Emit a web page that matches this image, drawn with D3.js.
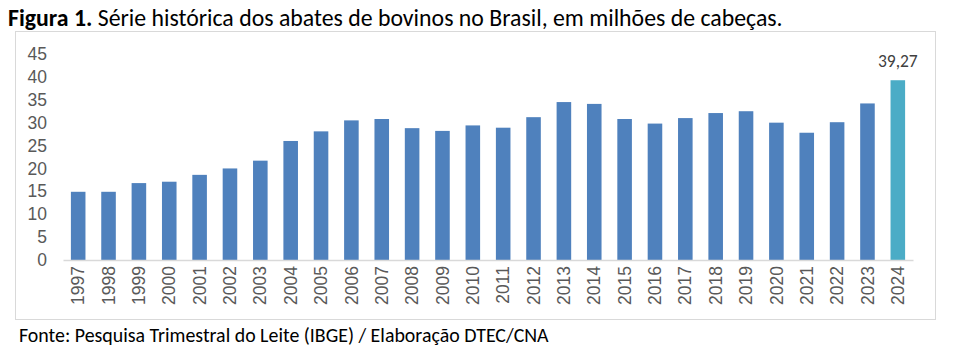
<!DOCTYPE html>
<html>
<head>
<meta charset="utf-8">
<script src="https://cdn.jsdelivr.net/npm/d3@7"></script>
<style>
  body { margin: 0; background: #fff; }
  svg { font-family: Carlito, Lato, "Open Sans", sans-serif; }
</style>
</head>
<body>
<div id="chart"></div>
<script>
(function abates_chart(){
// dados (milhões de cabeças)
const years = ["1997","1998","1999","2000","2001","2002","2003","2004","2005","2006",
    "2007","2008","2009","2010","2011","2012","2013","2014","2015","2016",
    "2017","2018","2019","2020","2021","2022","2023","2024"];
const abates = [14.9, 14.9, 16.8, 17.1, 18.6, 20.0, 21.7, 26.0, 28.1, 30.5,
    30.8, 28.8, 28.2, 29.4, 28.9, 31.2, 34.5, 34.1, 30.8, 29.8,
    31.0, 32.1, 32.5, 30.0, 27.8, 30.1, 34.2, 39.27];
const yTicks = [0, 5, 10, 15, 20, 25, 30, 35, 40, 45];

const data = years.map((y, i) => ({year: y, value: abates[i]}));

const width = 955, height = 351;
const marginLeft = 63, marginRight = 42, marginTop = 54, marginBottom = 91;

const svg = d3.select("#chart").append("svg")
    .attr("width", width)
    .attr("height", height)
    .attr("viewBox", [0, 0, width, height]);

// titulo
svg.append("text")
    .attr("x", 8)
    .attr("y", 26)
    .attr("font-size", 23.8)
    .attr("fill", "#000")
    .call(t => t.append("tspan").attr("font-weight", "bold").text("Figura 1."))
    .call(t => t.append("tspan").text(" Série histórica dos abates de bovinos no Brasil, em milhões de cabeças."));

// moldura
svg.append("rect")
    .attr("x", 15.5).attr("y", 31.5)
    .attr("width", 920).attr("height", 288)
    .attr("fill", "none")
    .attr("stroke", "#d9d9d9");

const x = d3.scaleBand()
    .domain(years)
    .range([marginLeft, width - marginRight])
    .paddingInner(0.52)
    .paddingOuter(0.26);

const y = d3.scaleLinear()
    .domain([0, 45])
    .range([height - marginBottom, marginTop]);

// eixo y (sem linha)
svg.append("g")
    .attr("transform", `translate(${marginLeft},0)`)
    .call(d3.axisLeft(y).tickValues(yTicks).tickSize(0).tickPadding(16))
    .call(g => g.select(".domain").remove())
    .call(g => g.selectAll("text")
        .attr("font-size", 17.5)
        .attr("fill", "#595959")
        .attr("font-family", null));

// barras
svg.append("g")
    .selectAll("rect")
    .data(data)
    .join("rect")
    .attr("x", d => x(d.year))
    .attr("y", d => y(d.value))
    .attr("width", x.bandwidth())
    .attr("height", d => y(0) - y(d.value))
    .attr("fill", d => d.year === "2024" ? "#4bacc6" : "#4f81bd");

// eixo x
svg.append("g")
    .attr("transform", `translate(0,${y(0)})`)
    .call(d3.axisBottom(x).tickSize(0).tickPadding(0))
    .call(g => g.select(".domain").attr("stroke", "#d9d9d9").attr("stroke-width", 1.5))
    .call(g => g.selectAll("text")
        .attr("font-size", 17.5)
        .attr("fill", "#595959")
        .attr("font-family", null)
        .attr("text-anchor", "end")
        .attr("dy", "0.35em")
        .attr("transform", "translate(0,6) rotate(-90)"));

// rotulo do ultimo valor
const last = data[data.length - 1];
svg.append("text")
    .attr("x", x(last.year) + x.bandwidth() / 2)
    .attr("y", y(last.value) - 13)
    .attr("text-anchor", "middle")
    .attr("font-size", 17.5)
    .attr("fill", "#404040")
    .text(d3.format(".2f")(last.value).replace(".", ","));

// fonte
svg.append("text")
    .attr("x", 19)
    .attr("y", 342)
    .attr("font-size", 19.9)
    .attr("fill", "#000")
    .text("Fonte: Pesquisa Trimestral do Leite (IBGE) / Elaboração DTEC/CNA");
})();
</script>
</body>
</html>
